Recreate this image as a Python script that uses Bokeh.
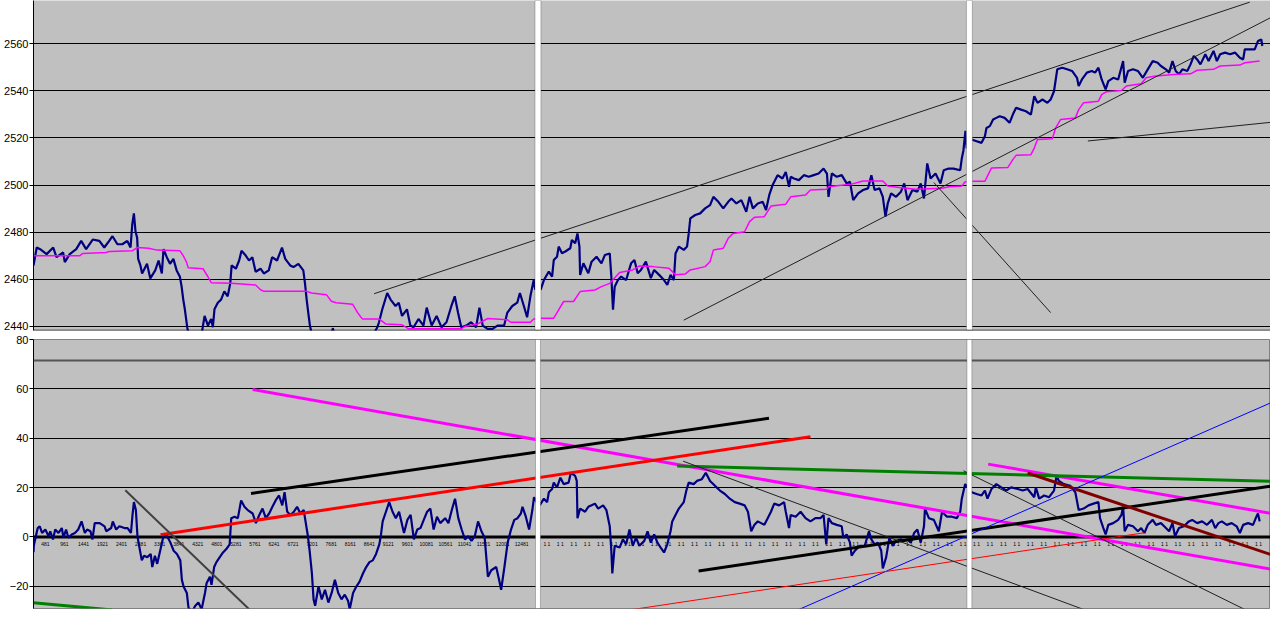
from bokeh.plotting import figure
from bokeh.layouts import column
from bokeh.models import Range1d, FixedTicker, Span, BoxAnnotation
from bokeh.core.properties import value
from bokeh.embed import file_html
from bokeh.resources import INLINE

# ---------------- data (x = bar number, y = value) ----------------
# upper chart: price (navy) in three consecutive chart windows
price_x1 = [0, 3.3, 6.7, 13.3, 20, 23.3, 30, 31.7, 36.7, 43.3, 48.3, 53.3, 60, 66.7, 71.7, 76.7, 80, 85, 90, 95,
            98.3, 100, 101.7, 103.3, 105, 106, 108.3, 110, 115, 118.3, 123.3, 126.7, 130, 131.7, 135, 138.3, 141.7,
            145, 148.3, 150, 151.7, 153.3, 155.7, 158.3, 165, 170, 173.3, 176.7, 180, 181.7, 183.3, 186.7, 190,
            193.3, 196.7, 199.3, 200.7, 205, 208.3, 210.7, 215, 218.3, 221.7, 225, 230, 233.3, 238.3, 241.7, 246.7,
            251.7, 255, 260, 263.3, 268.3, 273.3, 275, 276.7, 278.3, 280, 283.3, 290, 296.7, 301.7, 303.3, 305,
            316.7, 330, 343.3, 348.3, 350, 353.3, 358.3, 361.7, 366.7, 370, 373.3, 378.3, 381.7, 385, 390, 395,
            398.3, 403.3, 408.3, 413.3, 418.3, 423.3, 426.7, 430, 433.3, 438.3, 443.3, 448.3, 451.7, 455, 460, 465,
            470, 476.7, 480, 485, 490, 492.7, 496.7, 500, 503.3, 506.7, 508.3]
price_y1 = [2465.9, 2473.5, 2472.8, 2470.7, 2473.5, 2469.4, 2471.4, 2467.3, 2470.7, 2472.8, 2476.3, 2472.8, 2476.9,
            2476.3, 2473.5, 2476.3, 2478.3, 2474.9, 2474.9, 2476.3, 2473.5, 2483.2, 2488.0, 2480.4, 2477.6, 2468.7,
            2465.9, 2462.5, 2466.6, 2460.4, 2463.8, 2468.0, 2462.5, 2472.8, 2469.4, 2466.6, 2468.7, 2463.8, 2461.1,
            2457.0, 2451.4, 2447.3, 2439.7, 2434.0, 2431.0, 2436.0, 2444.5, 2440.4, 2443.2, 2439.7, 2447.3, 2450.1,
            2451.4, 2454.9, 2452.8, 2458.3, 2465.9, 2464.5, 2468.0, 2472.1, 2470.1, 2468.0, 2469.4, 2463.2, 2464.5,
            2462.5, 2463.8, 2469.4, 2468.0, 2473.5, 2468.7, 2465.9, 2465.2, 2466.6, 2463.8, 2458.3, 2451.4, 2445.9,
            2440.4, 2434.0, 2430.0, 2434.0, 2437.0, 2439.3, 2435.0, 2432.0, 2434.0, 2436.0, 2439.7, 2441.8, 2447.3,
            2454.2, 2451.4, 2448.7, 2450.1, 2444.5, 2447.3, 2440.4, 2439.7, 2443.2, 2440.4, 2448.0, 2440.4, 2444.5,
            2439.7, 2441.8, 2448.7, 2452.8, 2445.9, 2439.7, 2440.4, 2441.8, 2439.7, 2448.0, 2440.4, 2439.0, 2439.0,
            2440.4, 2440.4, 2445.9, 2448.7, 2450.1, 2454.2, 2448.7, 2443.9, 2452.8, 2459.7, 2455.6]
price_x2 = [513.7, 517, 522, 525.3, 527, 530.3, 532, 535.3, 538.7, 543.7, 545.3, 548.7, 551, 553, 553.7, 557, 562,
            565.3, 570.3, 575.3, 578.7, 583.7, 585.3, 587, 588.7, 592, 595.3, 600.3, 605.3, 608.7, 612, 615.3, 620.3,
            625.3, 628.7, 633.7, 638.7, 642, 645.3, 648.7, 650.3, 653.7, 658.7, 662, 663.7, 665.3, 670.3, 675.3,
            680.3, 685.3, 688.7, 693.7, 698.7, 703.7, 707, 712, 717, 722, 725.3, 728.7, 733.7, 738.7, 742, 745.3,
            748.7, 753.7, 758.7, 762, 765.3, 767, 770.3, 775.3, 780.3, 785.3, 790.3, 795.3, 800.3, 803.7, 805.3,
            808.7, 813.7, 818.7, 823.7, 827, 830.3, 835.3, 840.3, 845.3, 848.7, 852, 857, 860.3, 863, 865.3, 868.7,
            873.7, 878.7, 882, 885.3, 890.3, 895.3, 898.7, 902, 905.3, 908.7, 913.7, 918.7, 922, 927, 932, 938.7,
            940.3, 942, 944, 945.3]
price_y2 = [2455.5, 2459.7, 2463.3, 2461.2, 2468.2, 2469.6, 2473.9, 2471.1, 2471.8, 2473.2, 2476.7, 2475.3, 2479.5,
            2473.9, 2461.9, 2466.8, 2462.6, 2467.5, 2469.6, 2466.8, 2470.3, 2471.0, 2461.2, 2447.1, 2456.9, 2459.7,
            2461.2, 2459.7, 2466.8, 2468.2, 2462.6, 2464.0, 2467.5, 2460.5, 2464.0, 2461.9, 2459.7, 2457.6, 2461.9,
            2459.7, 2471.0, 2473.9, 2472.5, 2473.9, 2479.5, 2485.9, 2487.3, 2488.0, 2490.1, 2491.5, 2495.0, 2492.9,
            2490.1, 2492.9, 2494.3, 2492.2, 2493.6, 2488.7, 2495.0, 2490.1, 2492.2, 2492.9, 2489.4, 2495.8, 2500.0,
            2504.2, 2502.8, 2505.6, 2499.3, 2503.5, 2502.8, 2502.1, 2504.2, 2503.5, 2504.2, 2504.9, 2507.0, 2504.9,
            2495.0, 2504.9, 2503.5, 2504.2, 2500.7, 2501.4, 2493.6, 2496.5, 2497.9, 2498.6, 2504.2, 2497.9, 2498.6,
            2495.0, 2486.6, 2492.2, 2496.5, 2495.0, 2497.2, 2500.7, 2493.6, 2497.9, 2497.2, 2500.7, 2494.3, 2509.2,
            2502.8, 2504.9, 2500.7, 2506.3, 2507.0, 2507.0, 2506.3, 2511.3, 2514.8, 2523.0, 2515.5]
price_x3 = [950.3, 955.3, 960.3, 963.7, 965.3, 968.7, 972, 975.3, 978.7, 983.7, 988.7, 992, 995.3, 1000.3, 1005.3,
            1010.3, 1013.7, 1017, 1022, 1027, 1030.3, 1033.7, 1037, 1042, 1047, 1052, 1057, 1058.7, 1062, 1067, 1072,
            1075.3, 1078.7, 1082, 1086, 1088.7, 1093.7, 1098.7, 1103.7, 1105.3, 1108.7, 1113.7, 1118.7, 1123.7,
            1128.7, 1133.7, 1138.7, 1142, 1147, 1150.3, 1153.7, 1157, 1160.3, 1163.7, 1168.7, 1172, 1175.3, 1178.7,
            1182, 1187, 1190.3, 1195.3, 1198.7, 1202, 1207, 1212, 1217, 1222, 1225.3, 1227, 1232, 1237, 1240.3,
            1243.7, 1244.7]
price_y3 = [2519.3, 2518.6, 2517.9, 2520.7, 2524.2, 2525.0, 2527.8, 2528.5, 2529.2, 2528.5, 2526.4, 2529.9, 2532.8,
            2532.0, 2531.3, 2529.9, 2537.7, 2534.9, 2536.3, 2534.9, 2536.3, 2539.8, 2549.1, 2549.8, 2549.1, 2548.4,
            2545.5, 2542.0, 2544.8, 2547.7, 2548.4, 2547.7, 2549.8, 2544.8, 2540.6, 2544.1, 2545.5, 2544.8, 2552.6,
            2543.4, 2548.4, 2549.1, 2548.4, 2545.5, 2549.1, 2552.6, 2551.9, 2550.5, 2549.1, 2547.7, 2552.6, 2548.4,
            2547.0, 2549.1, 2548.4, 2551.2, 2554.8, 2553.3, 2551.2, 2555.5, 2552.6, 2556.9, 2552.6, 2555.5, 2556.2,
            2555.5, 2556.2, 2554.0, 2553.3, 2557.6, 2557.6, 2557.6, 2561.1, 2561.8, 2559.0]

# upper chart: stepped average (magenta)
avg_x = [0, 46.7, 50, 73.3, 76.7, 100, 105, 116.7, 125, 148.3, 151.7, 155, 156.7, 171.7, 176.7, 180, 200, 225, 230,
         233.3, 276.7, 281.7, 296.7, 301.7, 306.7, 323.3, 328.3, 331.7, 333.3, 350, 356.7, 373.3, 380, 433.3, 436.7,
         450, 460, 480, 483.3, 503.3, 506.7,
         513.7, 527, 532, 537, 547, 553.7, 568.7, 575.3, 583.7, 593.7, 607, 613.7, 627, 643.7, 650.3, 660.3, 665.3,
         680.3, 685.3, 688.7, 698.7, 703.7, 708.7, 720.3, 725.3, 730.3, 740.3, 747, 762, 767, 782, 787, 803.7, 805.3,
         820.3, 828.7, 840.3, 860.3, 865.3, 877, 893.7, 920.3, 927, 940.3, 943.7, 950.3,
         963.7, 970.3, 987, 992, 995.3, 1010.3, 1013.7, 1017, 1032, 1035.3, 1040.3, 1055.3, 1058.7, 1063.7, 1078.7,
         1082, 1087, 1102, 1107, 1122, 1127, 1135.3, 1148.7, 1158.7, 1172, 1178.7, 1195.3, 1202, 1222, 1227, 1242]
avg_y = [2470.0, 2470.0, 2471.0, 2471.4, 2471.8, 2472.1, 2473.5, 2473.2, 2472.4, 2472.1, 2470.0, 2467.3, 2464.9,
         2464.5, 2461.1, 2458.6, 2458.3, 2457.6, 2455.6, 2454.9, 2454.9, 2454.2, 2453.5, 2450.7, 2450.1, 2449.4,
         2445.9, 2443.9, 2443.2, 2443.2, 2441.1, 2440.7, 2439.0, 2439.0, 2440.0, 2441.1, 2443.4, 2442.9, 2441.8,
         2441.8, 2443.2,
         2443.5, 2443.5, 2447.1, 2450.6, 2450.6, 2454.8, 2455.5, 2456.9, 2458.3, 2462.9, 2464.0, 2465.7, 2465.4,
         2464.7, 2461.9, 2462.3, 2464.0, 2465.4, 2467.5, 2472.5, 2473.2, 2477.4, 2479.5, 2480.2, 2484.5, 2486.3,
         2486.6, 2491.1, 2491.9, 2495.0, 2495.8, 2497.9, 2498.2, 2499.3, 2500.0, 2500.4, 2501.7, 2501.7, 2499.6,
         2499.0, 2498.2, 2498.6, 2499.3, 2499.6, 2501.4, 2501.6,
         2501.6, 2507.2, 2507.5, 2510.8, 2512.6, 2512.9, 2515.7, 2519.3, 2519.6, 2524.2, 2527.8, 2528.5, 2532.0,
         2534.9, 2535.6, 2538.4, 2539.6, 2540.1, 2542.0, 2543.0, 2545.5, 2546.2, 2546.7, 2547.0, 2547.2, 2548.7,
         2549.1, 2550.5, 2550.9, 2551.9, 2552.6]

# upper chart: hand-drawn trend lines (start/end)
top_tl_x0 = [345, 658.7, 912, 1068]
top_tl_y0 = [2453.9, 2442.7, 2501.1, 2518.7]
top_tl_x1 = [1232, 1253, 1030.3, 1253]
top_tl_y1 = [2577.6, 2571.0, 2445.9, 2526.6]

# lower chart: oscillator (navy)
osc_x = [0, 0.3, 2, 4.3, 6.3, 8.7, 12, 15.3, 17, 19.7, 22, 25.3, 28.7, 30.3, 33, 35.3, 38.7, 42, 45.3, 48.7, 52, 54.3,
         57.7, 59.7, 62, 67, 72, 73.7, 78.7, 80.3, 83.7, 87, 92, 95.3, 98.7, 100.3, 101.7, 103.7, 105.3, 107, 109.7,
         112, 115.3, 118.7, 120.3, 123, 125.3, 128.7, 132, 135.3, 138.7, 142, 145.3, 148.7, 150.3, 152, 155.3, 157,
         160.3, 163.7, 167, 170.3, 173.7, 175.3, 178.7, 180.3, 183, 185.3, 188.7, 192, 195.3, 198.7, 200.3, 203.7,
         207, 210.3, 213.7, 217, 222, 225.3, 228.7, 232, 235.3, 238.7, 242, 245.3, 248.7, 252, 254.3, 257, 260.3,
         263.7, 267, 270.3, 273.7, 275.3, 277.7, 279.7, 282, 283.7, 285.3, 288.7, 292, 295.3, 298.7, 302, 305.3,
         308.7, 312, 315.3, 318.7, 320.3, 323.7, 327, 330.3, 333.7, 337, 340.3, 343.7, 347, 350.3, 352, 353.7, 357,
         360.3, 363.7, 367, 370.3, 373.7, 375.3, 378.7, 382, 385.3, 388.7, 392, 395.3, 398.7, 402, 405.3, 408.7,
         412, 417, 420.3, 423.7, 427, 430.3, 433.7, 437, 440.3, 443.7, 447, 450.3, 453.7, 457, 460.3, 463.7, 468.7,
         472, 473.7, 477, 480.3, 483.7, 487, 490.3, 493.7, 495.3, 498.7, 502, 505.3, 507, 509.7,
         512.7, 517, 520.3, 522, 525.3, 527, 530.3, 533.7, 537, 542, 544.3, 548.7, 550.3, 551, 553.7, 558.7, 562,
         565.3, 568.7, 572, 577, 580.3, 583.7, 585.3, 586.3, 588.7, 593.7, 597, 600.3, 603.7, 607, 610.3, 613.7,
         618.7, 622, 625.3, 628.7, 632, 635.3, 638.7, 642, 645.3, 647, 650.3, 653.7, 658.7, 661.3, 663.7, 668.7, 672,
         677, 681, 685.3, 690.3, 695.3, 700.3, 705.3, 710.3, 715.3, 720.3, 723.7, 727, 730.3, 733.7, 737, 740.3,
         743.7, 747, 750.3, 755.3, 760.3, 762, 765.3, 767, 772, 777, 782, 787, 792, 797, 800.3, 803, 805.3, 808.7,
         813.7, 818.7, 820.3, 823.7, 827, 828.7, 832, 837, 842, 846.3, 848.7, 852, 855.3, 858.7, 860.3, 863.7, 867,
         870.3, 873.7, 878.7, 882, 885.3, 888.7, 892, 895.3, 898.7, 902, 903, 907, 912, 917, 920.3, 925.3, 930.3,
         935.3, 938.7, 940.3, 943.7,
         950.3, 955.3, 960.3, 963.7, 966.3, 970.3, 975.3, 980.3, 985.3, 990.3, 997, 1002, 1007, 1013.7, 1015.3,
         1018.7, 1023.7, 1028.7, 1033.7, 1036.3, 1038.7, 1043.7, 1050.3, 1055.3, 1058.7, 1063.7, 1068.7, 1073.7,
         1078.7, 1080.3, 1083.7, 1086, 1088.7, 1093.7, 1098.7, 1102, 1103.7, 1105.3, 1108.7, 1113.7, 1118.7, 1122,
         1125.3, 1128.7, 1133.7, 1137, 1142, 1145.3, 1150.3, 1153.7, 1156.3, 1160.3, 1165.3, 1170.3, 1173.7,
         1178.7, 1183.7, 1188.7, 1193.7, 1197, 1200.3, 1203.7, 1208.7, 1213.7, 1218.7, 1222, 1225.3, 1230.3,
         1235.3, 1238.7, 1240.3, 1242]
osc_y = [-6.2, -3.6, -0.3, 3.6, 4.3, 1.6, 3.0, 0.3, 2.3, -1.0, 3.0, 1.6, 3.6, -0.3, 3.0, -0.3, 1.0, 1.6, 3.0, 6.3,
         1.6, 3.0, 2.3, -1.0, 5.6, 5.6, 4.3, 2.3, 3.6, 6.3, 3.0, 4.3, 3.6, 3.6, 1.6, 8.9, 14.1, 10.9, 0.3, -3.6, -9.5,
         -7.6, -8.2, -6.9, -12.2, -7.6, -10.9, -4.9, 1.0, 0.3, -2.3, -5.6, -6.9, -9.5, -17.4, -20.1, -22.7, -28.6,
         -30.6, -28.0, -26.6, -29.3, -22.7, -18.8, -16.1, -19.4, -12.2, -10.2, -8.2, -6.3, -4.9, -3.0, 7.6, 8.2, 7.6,
         14.8, 12.2, 10.9, 9.5, 5.6, 8.9, 11.5, 7.6, 9.5, 12.2, 14.8, 16.8, 12.8, 18.1, 10.2, 8.9, 10.2, 12.2, 9.5,
         10.9, 6.9, 1.0, -5.6, -14.8, -25.3, -27.9, -20.1, -25.3, -21.4, -26.6, -22.7, -17.4, -22.7, -25.3, -23.4,
         -26.0, -29.3, -22.7, -20.1, -18.1, -14.8, -12.2, -10.2, -9.5, -6.9, -3.0, 1.0, 6.3, 10.2, 14.1, 10.2, 7.6,
         10.2, 4.3, 1.6, 6.9, 8.9, -1.0, 3.0, 3.6, 6.9, 10.2, 11.5, 3.0, 8.2, 5.6, 7.6, 5.6, 10.9, 15.5, 7.6, 3.0,
         -1.0, 0.3, -1.6, 0.3, 6.3, 2.3, -0.3, -16.1, -13.5, -12.2, -18.1, -21.4, -12.2, -2.3, 3.0, 6.9, 7.6, 9.5,
         12.2, 8.2, 3.0, 10.9, 16.1, 14.1,
         12.8, 15.5, 14.1, 18.1, 19.4, 22.0, 20.1, 24.0, 21.4, 22.0, 26.0, 24.7, 22.7, 7.6, 11.5, 10.2, 12.2, 12.8,
         13.5, 11.5, 12.8, 10.9, 4.3, -5.6, -14.8, -3.6, -4.3, -1.0, -3.0, 3.0, -3.6, -0.3, -3.6, -1.6, 2.3, -2.3,
         1.0, -2.3, -4.3, -6.3, -3.0, 2.3, 6.3, 8.9, 11.5, 14.1, 18.8, 22.0, 21.4, 22.7, 23.4, 26.0, 22.7, 20.7, 18.8,
         17.4, 15.5, 14.1, 13.5, 12.8, 10.2, 2.3, 4.9, 6.3, 5.6, 4.9, 7.6, 10.2, 13.5, 12.8, 14.1, 10.2, 3.6, 8.9,
         8.2, 10.2, 7.6, 6.3, 7.6, 7.6, 8.9, -3.0, 7.6, 5.6, 4.9, 4.3, -0.3, 1.0, -2.3, -7.6, -5.6, -3.6, -3.6, 2.3,
         -1.0, -3.0, -2.3, -5.6, -12.8, -8.2, -0.3, -3.6, -1.6, -1.0, -1.6, -1.0, -2.3, 1.6, 3.0, -2.3, 4.3, 11.5,
         7.6, 6.9, 2.3, 10.2, 8.2, 8.2, 7.6, 10.2, 15.5, 21.4,
         18.1, 17.4, 16.8, 18.8, 15.5, 19.4, 21.4, 20.1, 18.8, 20.1, 19.4, 18.8, 19.4, 16.1, 20.1, 15.5, 16.8, 16.1,
         18.8, 24.7, 22.7, 21.4, 20.7, 18.1, 10.9, 11.5, 12.8, 13.5, 14.1, 7.6, 3.6, 1.0, 4.9, 5.6, 6.9, 8.9, 12.2,
         2.3, 4.9, 4.3, 2.3, 3.6, 1.6, 4.9, 6.9, 4.9, 5.6, 4.3, 2.3, 5.6, 0.3, 3.6, 4.3, 6.3, 6.9, 5.6, 6.3, 4.9,
         6.9, 3.6, 5.6, 6.3, 4.9, 5.6, 4.3, 1.6, 4.9, 5.6, 4.9, 8.2, 9.5, 6.3]

# lower chart: hand-drawn trend lines
bot_tl_x0 = [222, 967, 128.7, 220.3, 673.7, 652, 0, 1007, 775.3, 607, 93, 658, 942]
bot_tl_y0 = [59.7, 29.5, 0.9, 17.6, -13.8, 28.7, -26.7, 25.9, -29.4, -29.4, 18.9, 30.7, 26.8]
bot_tl_x1 = [1253, 1253, 787, 745, 1253, 1253, 80, 1253, 1253, 1125.3, 218.7, 1063.7, 1227]
bot_tl_y1 = [-13.0, 9.6, 40.6, 48.1, 20.6, 22.6, -29.6, -7.1, 54.3, 1.7, -29.4, -29.4, -29.4]
bot_tl_color = ["#FF00FF", "#FF00FF", "#FF0000", "#000000", "#000000", "#008000", "#008000", "#800000",
                "#0000FF", "#FF0000", "#404040", "#202020", "#202020"]
bot_tl_width = [3, 3, 3, 3, 3, 3, 3, 3, 1, 1, 2, 1, 1]

price_ticks = [2440, 2460, 2480, 2500, 2520, 2540, 2560]
osc_ticks = [-20, 0, 20, 40, 60, 80]
sample_labels_1 = [str(481 + 480 * k) for k in range(26)]

# window borders between the three chart windows (bar numbers)
win_left = [508, 945]
win_right = [514, 951]

# ---------------- layout ----------------
W = 1270
LEFT = 33
FONT = "Liberation Sans"
BG = "#C0C0C0"
NAVY = "#000080"


def style_axis(p, ticks):
    ax = p.yaxis[0]
    ax.ticker = FixedTicker(ticks=ticks)
    ax.major_tick_out = 4
    ax.major_tick_in = 0
    ax.minor_tick_line_color = None
    ax.major_label_standoff = 1
    ax.major_label_text_font = FONT
    ax.major_label_text_font_size = "11px"
    ax.major_label_text_color = "black"
    ax.axis_line_color = "black"
    ax.major_tick_line_color = "black"
    p.xgrid.visible = False
    p.ygrid.grid_line_color = "black"
    p.ygrid.grid_line_width = 1


top = figure(width=W, height=333, x_range=Range1d(0, 1253), y_range=Range1d(2438.3, 2578.3),
             output_backend="svg", toolbar_location=None, x_axis_location=None,
             min_border_left=LEFT, min_border_right=0, min_border_top=0, min_border_bottom=3,
             background_fill_color=BG, border_fill_color="white", outline_line_color=None)
style_axis(top, price_ticks)
top.ygrid.ticker = FixedTicker(ticks=price_ticks)

top.line(price_x1, price_y1, line_color=NAVY, line_width=2.2)
top.line(price_x2, price_y2, line_color=NAVY, line_width=2.2)
top.line(price_x3, price_y3, line_color=NAVY, line_width=2.2)
top.line(avg_x, avg_y, line_color="#FF00FF", line_width=1.5)
top.segment(top_tl_x0, top_tl_y0, top_tl_x1, top_tl_y1, line_color="#202020", line_width=1)
for l, r in zip(win_left, win_right):
    top.add_layout(BoxAnnotation(left=l, right=r, fill_color="white", fill_alpha=1,
                                 line_color="#303030", line_width=1))
top.add_layout(Span(location=2438.4, dimension="width", line_color="black", line_width=1))

bot = figure(width=W, height=287, x_range=Range1d(0, 1253), y_range=Range1d(-29, 80),
             output_backend="svg", toolbar_location=None, x_axis_location=None,
             min_border_left=LEFT, min_border_right=0, min_border_top=6, min_border_bottom=12,
             background_fill_color=BG, border_fill_color="white", outline_line_color="#808080")
style_axis(bot, osc_ticks)
bot.ygrid.ticker = FixedTicker(ticks=[-20, 20, 40, 60])
bot.add_layout(Span(location=0, dimension="width", line_color="black", line_width=3, level="underlay"))
bot.add_layout(Span(location=71.5, dimension="width", line_color="#555555", line_width=2))

lab_x1 = [12 + 19.3 * k for k in range(len(sample_labels_1))]
bot.text(lab_x1, [-2.7] * len(lab_x1), text=sample_labels_1, text_font=value(FONT),
         text_font_size=value("5px"), text_align="center", text_baseline="middle", text_color="black")
lab_x2 = [520 + 13.6 * k for k in range(54)]
bot.text(lab_x2, [-2.7] * len(lab_x2), text=["1 1"] * len(lab_x2), text_font=value(FONT),
         text_font_size=value("5px"), text_align="center", text_baseline="middle", text_color="black")

bot.line(osc_x, osc_y, line_color=NAVY, line_width=2.2)
for x0, y0, x1, y1, c, w in zip(bot_tl_x0, bot_tl_y0, bot_tl_x1, bot_tl_y1, bot_tl_color, bot_tl_width):
    bot.segment([x0], [y0], [x1], [y1], line_color=c, line_width=w)
for l, r in zip(win_left, win_right):
    bot.add_layout(BoxAnnotation(left=l + 0.5, right=r - 0.5, fill_color="white", fill_alpha=1,
                                 line_color="#303030", line_width=1))

layout = column(top, bot, spacing=0)
open("out.html", "w").write(file_html(layout, INLINE))
